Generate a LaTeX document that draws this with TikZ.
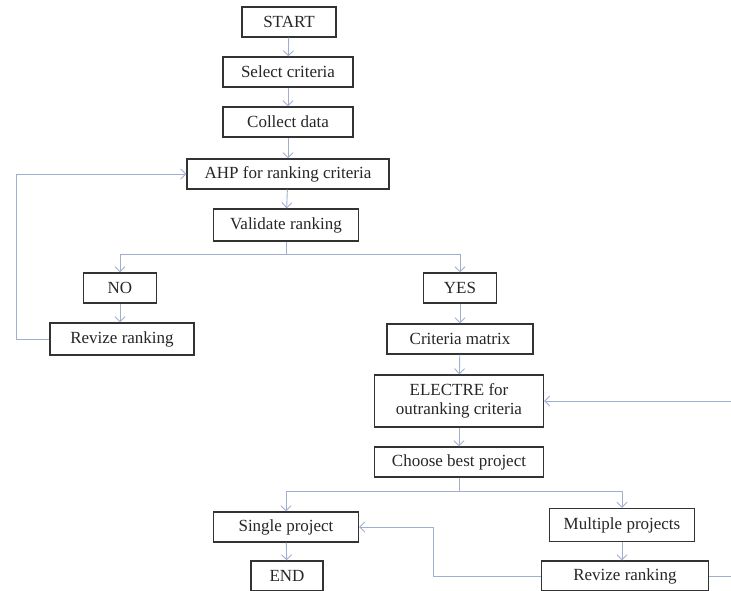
\documentclass[tikz,border=0pt]{standalone}
\usepackage{fontspec}
\setmainfont{Liberation Serif}
\usetikzlibrary{arrows.meta}
\begin{document}
\begin{tikzpicture}[x=1pt,y=-1pt,
    box/.style={draw=black!80,line width=1.4pt,fill=white,inner sep=0pt,
      align=center,text=black!85,font=\fontsize{17}{19}\selectfont,
      minimum height=30},
    link/.style={draw={rgb,255:red,160;green,174;blue,208},line width=0.9pt,
      -{Straight Barb[length=5pt,width=10pt]}}]
  \useasboundingbox (0,0) rectangle (731,591);

  \node (start) at (289,22) [box,minimum width=94]{START};
  \node (select) at (288,72) [box,minimum width=130]{Select criteria};
  \node (collect) at (288,122) [box,minimum width=130]{Collect data};
  \node (ahp) at (288,174) [box,minimum width=202]{AHP for ranking criteria};
  \node (valid) at (286,225) [box,minimum width=145,minimum height=32]{Validate ranking};
  \node (no) at (120,288) [box,minimum width=73]{NO};
  \node (revL) at (122,339) [box,minimum width=144,minimum height=32]{Revize ranking};
  \node (yes) at (460,288) [box,minimum width=73]{YES};
  \node (matrix) at (460,339) [box,minimum width=146]{Criteria matrix};
  \node (electre) at (459,401) [box,minimum width=169,minimum height=52]{ELECTRE for\\outranking criteria};
  \node (choose) at (459,462) [box,minimum width=169]{Choose best project};
  \node (single) at (286,527) [box,minimum width=145]{Single project};
  \node (end) at (287,576) [box,minimum width=72]{END};
  \node (multi) at (622,525) [box,minimum width=145,minimum height=33]{Multiple projects};
  \node (revR) at (625,576) [box,minimum width=167]{Revize ranking};

  \draw[link] (start) -- (select);
  \draw[link] (select) -- (collect);
  \draw[link] (collect) -- (ahp);
  \draw[link] (ahp) -- (valid);

  \draw[link] (valid.south) -- ++(0,13) -| (no.north);
  \draw[link] (valid.south) -- ++(0,13) -| (yes.north);
  \draw[link] (no) -- (no |- revL.north);
  \draw[link] (revL.west) -- ++(-33,0) |- (ahp.west);

  \draw[link] (yes) -- (matrix);
  \draw[link] (matrix) -- (electre);
  \draw[link] (electre) -- (choose);

  \draw[link] (choose.south) -- ++(0,14) -| (single.north);
  \draw[link] (choose.south) -- ++(0,14) -| (multi.north);
  \draw[link] (single) -- (end);
  \draw[link] (multi) -- (multi |- revR.north);

  \draw[link] (revR.west) -- ++(-107,0) |- (single.east);
  \draw[link] (revR.east) -- ++(40,0) |- (electre.east);
\end{tikzpicture}
\end{document}
